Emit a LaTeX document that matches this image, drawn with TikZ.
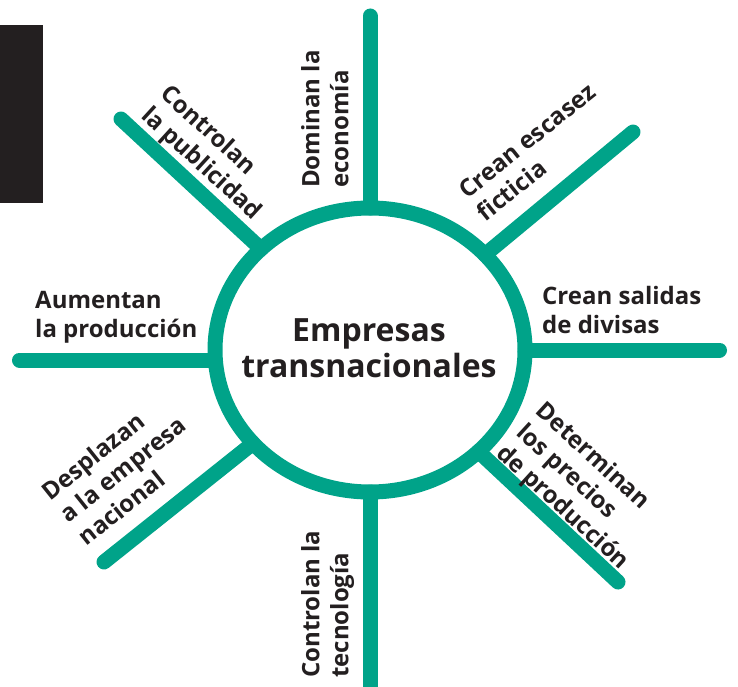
\documentclass[tikz,border=0pt]{standalone}
\usepackage{fontspec}
\setmainfont{Open Sans}
\usetikzlibrary{shapes.geometric}
\definecolor{teal2}{RGB}{0,163,137}
\definecolor{ink}{RGB}{35,31,32}
\tikzset{
  spoke/.style={draw=teal2, line width=15pt, line cap=round},
  ring/.style={ellipse, draw=teal2, line width=15pt, minimum width=310pt, minimum height=284pt, inner sep=0pt, outer sep=0pt},
  hubtext/.style={font=\bfseries\fontsize{32}{36}\selectfont, text=ink, align=center, inner sep=0pt},
  lab/.style={font=\bfseries\fontsize{24}{29}\selectfont, text=ink, align=left, inner sep=0pt, anchor=north west}
}
\begin{document}
\begin{tikzpicture}[x=1pt,y=-1pt]
\useasboundingbox (0,0) rectangle (738,687);
\clip (0,0) rectangle (738,687);
\fill[ink] (0,25) rectangle (43,203);
\node[ring] (c) at (370,350) {};
\node[hubtext] (t) at (369,348) {Empresas\\transnacionales};
\coordinate (eT) at (370,16);
\coordinate (eB) at (370,705);
\coordinate (eL) at (19.5,360);
\coordinate (eR) at (719.5,350);
\coordinate (eUL) at (121,119);
\coordinate (eUR) at (633,132);
\coordinate (eLL) at (104,562);
\coordinate (eLR) at (618,582);
\draw[spoke] (c) -- (eT);
\draw[spoke] (c) -- (eB);
\draw[spoke] (eL) -- (eL -| c.west);
\draw[spoke] (c) -- (eR);
\draw[spoke] (c) -- (eUL);
\draw[spoke] (c) -- (eUR);
\draw[spoke] (c) -- (eLL);
\draw[spoke] (c) -- (eLR);
\node[lab] (l1) at (35,291) {Aumentan\\la producción};
\node[lab] (l2) at (542,286) {Crean salidas\\de divisas};
\node[lab, rotate=90] (l3) at (301,188) {Dominan la\\economía};
\node[lab, rotate=90] (l4) at (301,678) {Controlan la\\tecnología};
\node[lab, rotate=-42.5] (l5) at (172,82) {Controlan\\la publicidad};
\node[lab, rotate=38.6] (l6) at (456,186) {Crean escasez\\ficticia};
\node[lab, rotate=-42.5] (l7) at (547,399) {Determinan\\los precios\\de producción};
\node[lab, rotate=38.6] (l8) at (39,487) {Desplazan\\a la empresa\\nacional};
\end{tikzpicture}
\end{document}
